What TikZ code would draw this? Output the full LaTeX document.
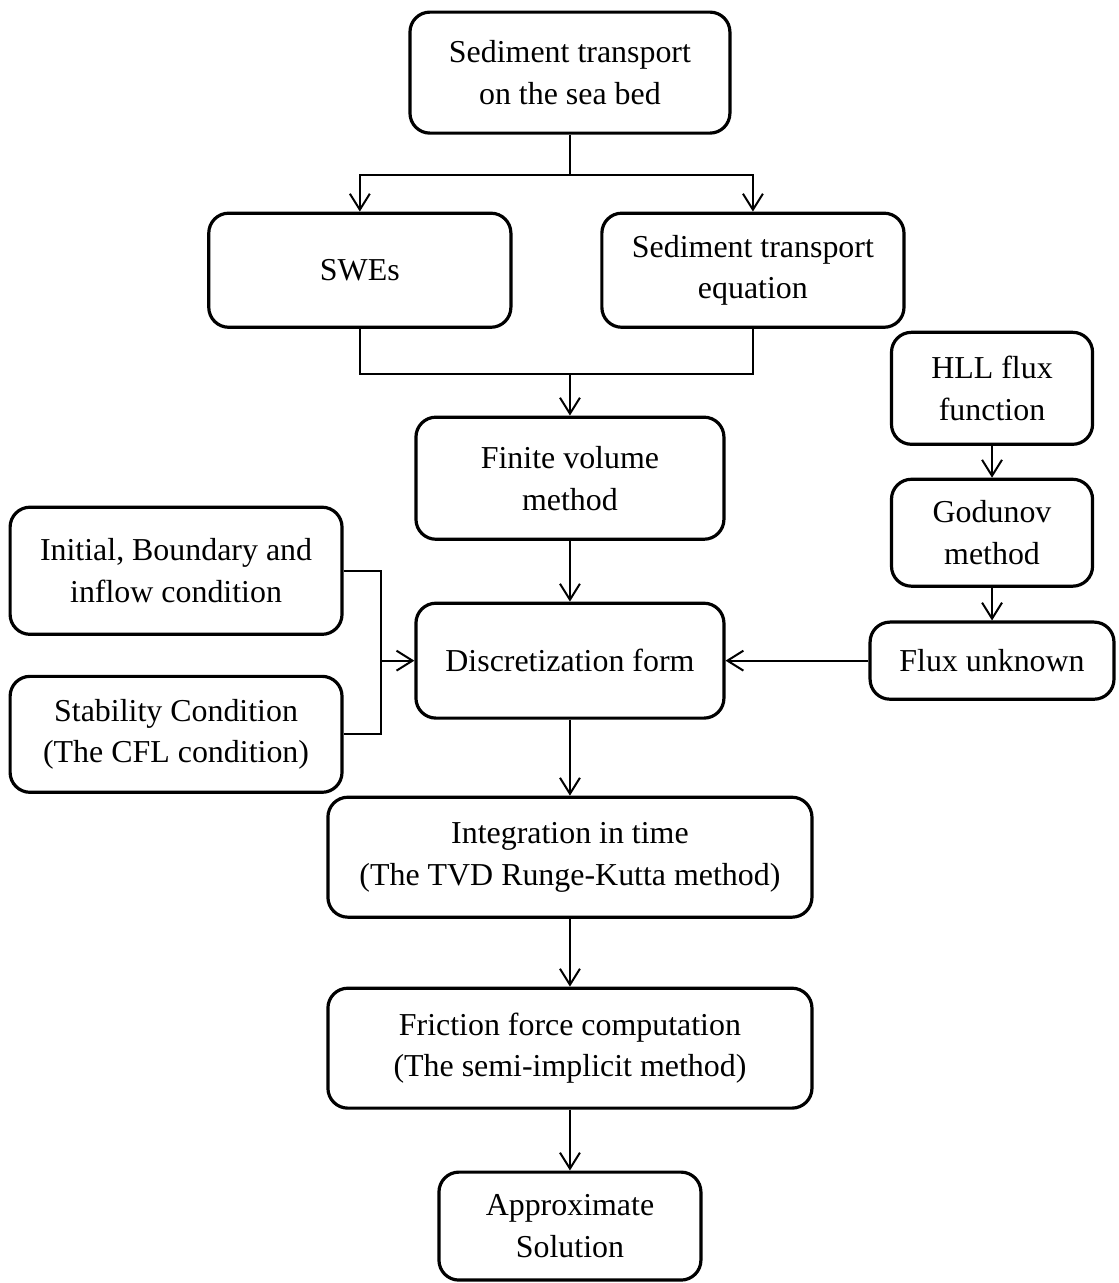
\documentclass[tikz,border=0pt]{standalone}
\usepackage{fontspec}
\setmainfont{Liberation Serif}
\usepackage{xcolor}
\usepackage{tikz}
\usetikzlibrary{positioning, arrows.meta}

\begin{document}
\begin{tikzpicture}[on grid,
        box/.style={draw, line width=1.2pt, rounded corners=7.5pt, align=center, inner sep=2pt,
            font=\fontsize{12pt}{15.7pt}\selectfont},
        arr/.style={-{Straight Barb[length=6pt,width=7.5pt]}, line width=0.75pt},
        link/.style={line width=0.75pt}]
        \useasboundingbox (-214.3pt,27.3pt) rectangle (206.4pt,-455.1pt);

        \node[box, minimum width=120.3pt, minimum height=45.5pt] (top) at (0,0) {Sediment transport\\on the sea bed};
        \node[box, minimum width=113.6pt, minimum height=42.9pt] (swe) [below left=74.3pt and 79pt of top] {SWEs};
        \node[box, minimum width=113.6pt, minimum height=42.9pt] (steq) [below right=74.3pt and 68.8pt of top] {Sediment transport\\equation};
        \node[box, minimum width=115.8pt, minimum height=45.9pt] (fvm) [below=152.5pt of top] {Finite volume\\method};
        \node[box, minimum width=115.8pt, minimum height=43.2pt] (disc) [below=68.6pt of fvm] {Discretization form};
        \node[box, minimum width=182pt, minimum height=45.1pt] (integ) [below=73.9pt of disc] {Integration in time\\(The TVD Runge-Kutta method)};
        \node[box, minimum width=182pt, minimum height=45.1pt] (fric) [below=71.8pt of integ] {Friction force computation\\(The semi-implicit method)};
        \node[box, minimum width=98.5pt, minimum height=40.6pt] (appr) [below=66.9pt of fric] {Approximate\\Solution};

        \node[box, minimum width=124.8pt, minimum height=47.8pt] (init) [above left=33.8pt and 148.1pt of disc] {Initial, Boundary and\\inflow condition};
        \node[box, minimum width=124.8pt, minimum height=43.6pt] (stab) [below=61.5pt of init] {Stability Condition\\(The CFL condition)};

        \node[box, minimum width=91.7pt, minimum height=29pt] (flux) [right=158.7pt of disc] {Flux unknown};
        \node[box, minimum width=75.6pt, minimum height=40.2pt] (god) [above=48.1pt of flux] {Godunov\\method};
        \node[box, minimum width=75.6pt, minimum height=42.1pt] (hll) [above=54.3pt of god] {HLL flux\\function};

        % split and merge points
        \coordinate (split) at ([yshift=-15pt]top.south);
        \coordinate (merge) at ([yshift=-16.9pt]swe.south);
        \coordinate (join) at ([xshift=13.9pt]init.east);

        \draw[link] (top.south) -- (split);
        \draw[arr] (split) -| (swe.north);
        \draw[arr] (split) -| (steq.north);
        \draw[link] (swe.south) -- (merge) -| (steq.south);
        \draw[arr] (merge -| fvm.north) -- (fvm.north);
        \draw[link] (init.east) -- (join) |- (stab.east);
        \draw[arr] (join |- disc.west) -- (disc.west);

        \path[arr]
        (fvm) edge (disc)
        (disc) edge (integ)
        (integ) edge (fric)
        (fric) edge (appr)
        (hll) edge (god)
        (god) edge (flux)
        (flux) edge (disc);

    \end{tikzpicture}
\end{document}
